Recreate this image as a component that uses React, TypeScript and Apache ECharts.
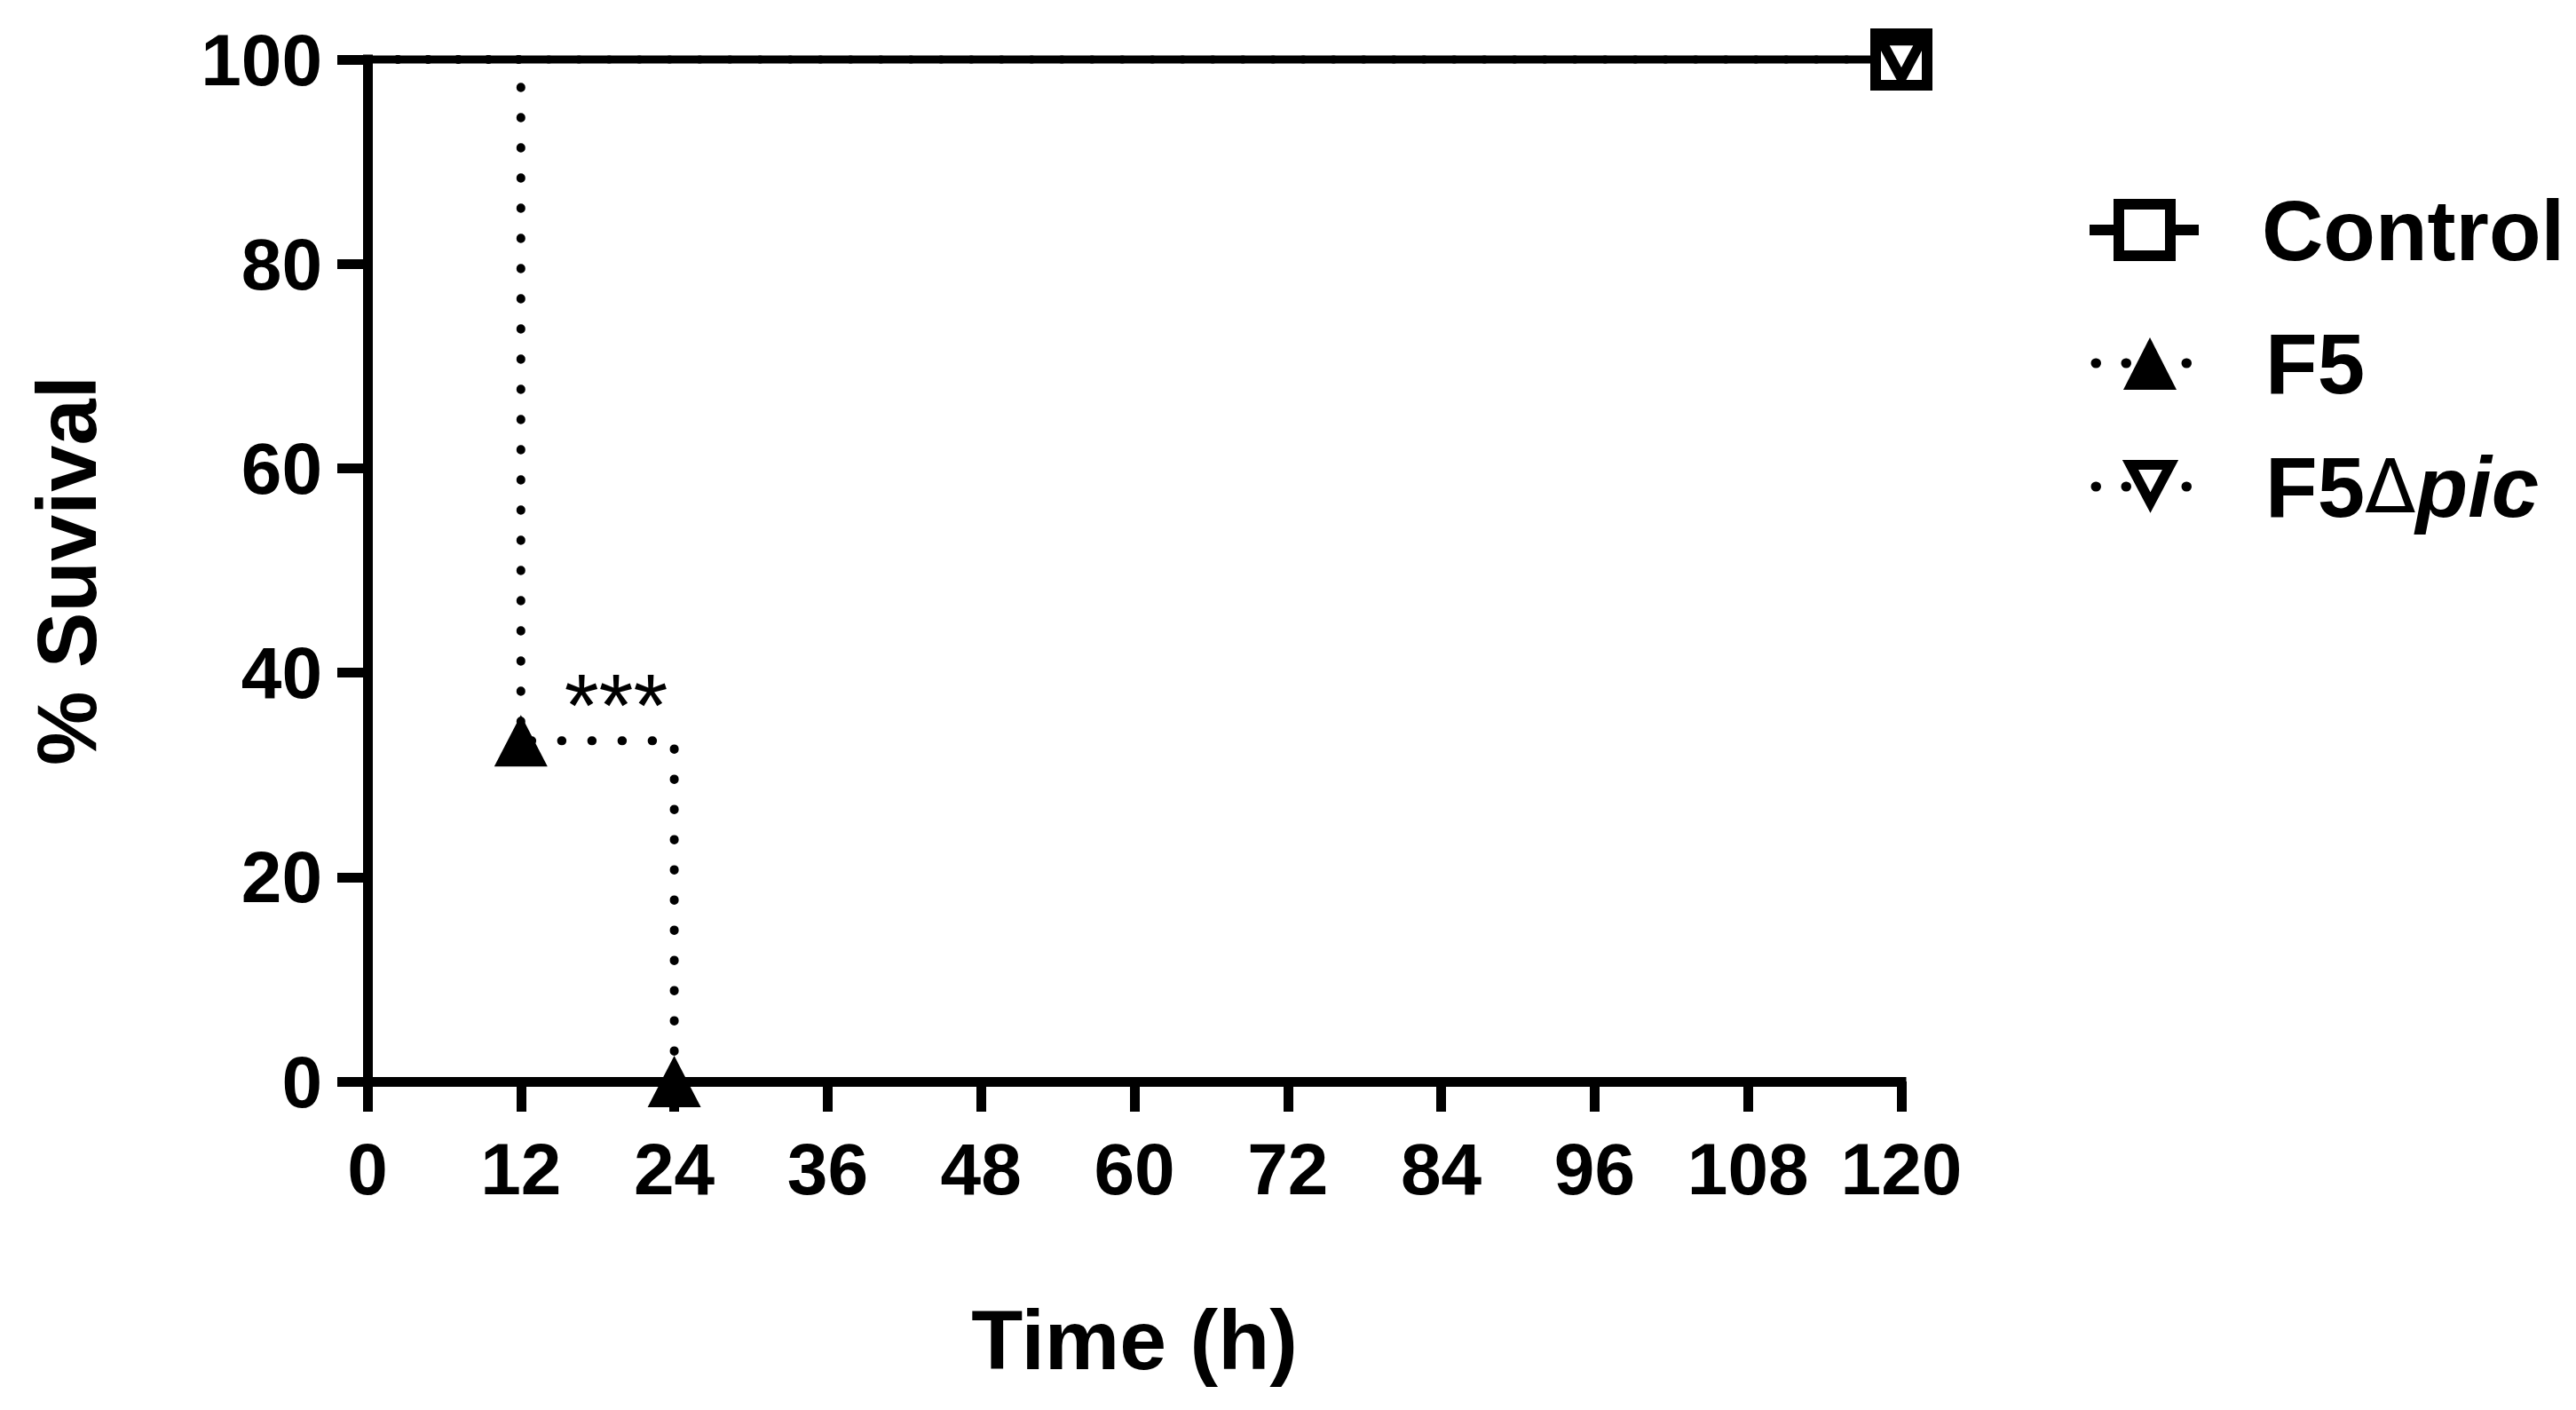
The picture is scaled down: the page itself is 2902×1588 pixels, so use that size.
import React, { useEffect, useRef } from 'react';
import * as echarts from 'echarts';

const FONT = '"Liberation Sans", Arial, Helvetica, sans-serif';

// ---- Data ----
const xMin = 0;
const xMax = 120;
const xInterval = 12;
const yMin = 0;
const yMax = 100;
const yInterval = 20;

const seriesNames = ['Control', 'F5', 'F5Δpic'];

const controlTime = [0, 120];
const controlSurvival = [100, 100];
const controlMarked = [false, true];

const f5Time = [0, 12, 24];
const f5Survival = [100, 33.33, 0];
const f5Marked = [false, true, true];

const f5dpicTime = [0, 120];
const f5dpicSurvival = [100, 100];
const f5dpicMarked = [false, true];

const xTitle = 'Time (h)';
const yTitle = '% Suvival';
const significance = '***';

function buildData(t: number[], s: number[], m: boolean[], sym: string) {
  return t.map((tv, i) => ({ value: [tv, s[i]], symbol: m[i] ? sym : 'none' }));
}

export default function App() {
  const ref = useRef<HTMLDivElement>(null);
  useEffect(() => {
    document.body.style.margin = '0';
    if (!ref.current) return;
    const chart = echarts.init(ref.current, undefined, { renderer: 'svg' });

    const dotted = [0.5, 33.5];

    const option: any = {
      animation: false,
      backgroundColor: '#ffffff',
      grid: { left: 414, top: 67, width: 1728, height: 1151, containLabel: false },
      xAxis: {
        type: 'value',
        min: xMin,
        max: xMax,
        interval: xInterval,
        splitLine: { show: false },
        axisLine: { lineStyle: { color: '#000', width: 11, cap: 'square' } },
        axisTick: { length: 34, lineStyle: { color: '#000', width: 11 } },
        axisLabel: { fontSize: 82, fontWeight: 'bold', color: '#000', margin: 57, fontFamily: FONT },
        name: xTitle,
        nameLocation: 'middle',
        nameGap: 243,
        nameTextStyle: { fontSize: 95, fontWeight: 'bold', color: '#000', fontFamily: FONT },
      },
      yAxis: {
        type: 'value',
        min: yMin,
        max: yMax,
        interval: yInterval,
        splitLine: { show: false },
        axisLine: { lineStyle: { color: '#000', width: 11, cap: 'square' } },
        axisTick: { length: 34, lineStyle: { color: '#000', width: 11 } },
        axisLabel: { fontSize: 82, fontWeight: 'bold', color: '#000', margin: 51, fontFamily: FONT },
        name: yTitle,
        nameLocation: 'middle',
        nameGap: 292,
        nameRotate: 90,
        nameTextStyle: { fontSize: 94, fontWeight: 'bold', color: '#000', fontFamily: FONT },
      },
      series: [
        {
          name: seriesNames[1],
          type: 'line',
          step: 'end',
          z: 2,
          silent: true,
          clip: false,
          data: buildData(f5Time, f5Survival, f5Marked, 'triangle'),
          symbolSize: [60, 58],
          itemStyle: { color: '#000' },
          lineStyle: { color: '#000', width: 10, type: dotted, cap: 'round' },
        },
        {
          name: seriesNames[0],
          type: 'line',
          step: 'end',
          z: 3,
          silent: true,
          clip: false,
          data: buildData(controlTime, controlSurvival, controlMarked, 'rect'),
          symbolSize: 58,
          itemStyle: { color: '#fff', borderColor: '#000', borderWidth: 12 },
          lineStyle: { color: '#000', width: 9 },
        },
        {
          name: seriesNames[2],
          type: 'line',
          step: 'end',
          z: 4,
          silent: true,
          clip: false,
          data: buildData(f5dpicTime, f5dpicSurvival, f5dpicMarked, 'triangle'),
          symbolSize: [45, 42],
          symbolRotate: 180,
          itemStyle: { color: '#fff', borderColor: '#000', borderWidth: 11, borderJoin: 'miter', borderMiterLimit: 10 },
          lineStyle: { color: '#000', width: 9, type: dotted, cap: 'round' },
        },
      ],
      graphic: [
        {
          type: 'text',
          x: 694,
          y: 794,
          style: {
            text: significance,
            font: `normal 100px ${FONT}`,
            fill: '#000',
            align: 'center',
            verticalAlign: 'middle',
          },
        },
        // Legend: Control
        {
          type: 'line',
          shape: { x1: 2354, y1: 259, x2: 2477, y2: 259 },
          style: { stroke: '#000', lineWidth: 12 },
        },
        {
          type: 'rect',
          shape: { x: 2416 - 29, y: 259 - 29, width: 58, height: 58 },
          style: { fill: '#fff', stroke: '#000', lineWidth: 12 },
        },
        {
          type: 'text',
          x: 2548,
          y: 259,
          style: { text: seriesNames[0], font: `bold 96px ${FONT}`, fill: '#000', verticalAlign: 'middle' },
        },
        // Legend: F5
        {
          type: 'line',
          shape: { x1: 2361, y1: 409, x2: 2470, y2: 409 },
          style: { stroke: '#000', lineWidth: 11, lineDash: dotted, lineCap: 'round' },
        },
        {
          type: 'polygon',
          shape: { points: [[2422, 380], [2392, 439], [2452, 439]] },
          style: { fill: '#000' },
        },
        {
          type: 'text',
          x: 2552,
          y: 409,
          style: { text: seriesNames[1], font: `bold 96px ${FONT}`, fill: '#000', verticalAlign: 'middle' },
        },
        // Legend: F5Δpic
        {
          type: 'line',
          shape: { x1: 2361, y1: 548, x2: 2470, y2: 548 },
          style: { stroke: '#000', lineWidth: 11, lineDash: dotted, lineCap: 'round' },
        },
        {
          type: 'polygon',
          shape: { points: [[2400, 523.5], [2445, 523.5], [2422.5, 566]] },
          style: { fill: '#fff', stroke: '#000', lineWidth: 11, lineJoin: 'miter', miterLimit: 10 },
        },
        {
          type: 'text',
          x: 2552,
          y: 548,
          style: {
            text: '{b|F5}{d|Δ}{i|pic}',
            verticalAlign: 'middle',
            rich: {
              b: { fontFamily: FONT, fontSize: 96, fontWeight: 'bold', fill: '#000', color: '#000' },
              d: { fontFamily: '"DejaVu Sans", sans-serif', fontSize: 84, fontWeight: 'normal', fill: '#000', color: '#000' },
              i: { fontFamily: FONT, fontSize: 96, fontWeight: 'bold', fontStyle: 'italic', fill: '#000', color: '#000' },
            },
          },
        },
      ],
    };
    chart.setOption(option);
    return () => chart.dispose();
  }, []);
  return <div ref={ref} style={{ width: 2902, height: 1588 }} />;
}
